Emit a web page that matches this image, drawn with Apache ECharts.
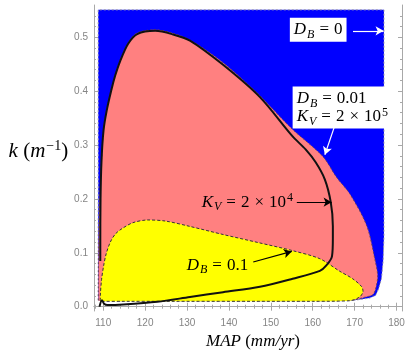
<!DOCTYPE html>
<html><head><meta charset="utf-8">
<script src="https://cdn.jsdelivr.net/npm/echarts@6/dist/echarts.min.js"></script>
<style>html,body{margin:0;padding:0;background:#fff}#c{width:407px;height:353px}</style>
</head><body><div id="c"></div>
<script>
// ---- data (MAP in mm/yr, k in 1/m) ----
const xTicks = [110, 120, 130, 140, 150, 160, 170, 180];
const yTicks = [0.0, 0.1, 0.2, 0.3, 0.4, 0.5];
const xTickLabels = ['110', '120', '130', '140', '150', '160', '170', '180'];
const yTickLabels = ['0.0', '0.1', '0.2', '0.3', '0.4', '0.5'];

// D_B = 0 region (blue)
const regionDB0 = [
  [108.8, 0.012], [108.8, 0.551], [177.0, 0.551], [177.0, 0.13], [176.8, 0.085],
  [176.4, 0.052], [175.7, 0.033], [175.0, 0.021], [173.6, 0.016], [170.0, 0.012]
];
// D_B = 0.01, K_V = 2e5 region (pink)
const regionDB001 = [
  [108.85, 0.012], [108.85, 0.03], [108.9, 0.10], [109.1, 0.19], [109.4, 0.24], [109.6, 0.274],
  [110.07, 0.329], [110.83, 0.366], [111.9, 0.403], [112.86, 0.431], [114.05, 0.458],
  [115.95, 0.490], [118.1, 0.508], [122.4, 0.514], [126.4, 0.508], [130.7, 0.495],
  [138.6, 0.453], [146.7, 0.397], [149.8, 0.372], [155.2, 0.329], [162.4, 0.279],
  [165.7, 0.240], [168.8, 0.210], [172.9, 0.150], [174.8, 0.089], [175.5, 0.057],
  [175.0, 0.033], [174.3, 0.022], [172.4, 0.0176], [170.0, 0.013], [165.0, 0.011],
  [115.0, 0.011], [109.2, 0.011]
];
// D_B = 0.1 region (yellow)
const regionDB01 = [
  [109.3, 0.011], [109.3, 0.02], [109.6, 0.05], [110.1, 0.076], [110.7, 0.098],
  [111.7, 0.120], [112.9, 0.135], [114.5, 0.145], [117.1, 0.156], [120.5, 0.161],
  [124.8, 0.159], [130.7, 0.149], [138.6, 0.134], [147.0, 0.119], [155.2, 0.104],
  [161.7, 0.089], [166.4, 0.066], [169.5, 0.052], [171.7, 0.037], [172.0, 0.028],
  [171.2, 0.018], [168.8, 0.011], [160.0, 0.010], [115.0, 0.010], [109.6, 0.010]
];
// K_V = 2e4 contour (black)
const contourKV = [
  [109.1, 0.0], [109.7, 0.012], [110.2, 0.0055], [111.0, 0.003], [114.8, 0.004],
  [122.9, 0.009], [130.7, 0.018], [138.6, 0.027], [147.4, 0.037], [155.2, 0.052],
  [161.7, 0.0665], [163.3, 0.077], [164.6, 0.094], [164.8, 0.126], [164.8, 0.15],
  [164.3, 0.194], [162.9, 0.236], [160.7, 0.268], [158.3, 0.292], [155.2, 0.316],
  [147.4, 0.389], [138.6, 0.449], [130.7, 0.494], [126.4, 0.506], [122.4, 0.512],
  [118.1, 0.506], [115.95, 0.488], [114.05, 0.456], [112.86, 0.429], [111.9, 0.401],
  [110.83, 0.364], [110.07, 0.327], [109.6, 0.272], [109.36, 0.20], [109.3, 0.107],
  [109.3, 0.085]
];

// minor tick positions
const xMinor = [], yMinor = [];
for (let v = 108; v <= 181; v += 2) if (v % 10 !== 0) xMinor.push(v);
for (let j = 1; j <= 27; j++) if (j % 5 !== 0) yMinor.push(+(j * 0.02).toFixed(2));

const SERIF = '"Liberation Serif", "DejaVu Serif", serif';
const FS = 17;
const richAnn = {
  i:   { fontFamily: SERIF, fontStyle: 'italic', fontSize: FS, lineHeight: 18, color: '#000' },
  r:   { fontFamily: SERIF, fontSize: FS, lineHeight: 18, color: '#000' },
  eq:  { fontFamily: SERIF, fontSize: FS, lineHeight: 18, padding: [0, 5, 0, 5], color: '#000' },
  sub: { fontFamily: SERIF, fontStyle: 'italic', fontSize: 12, lineHeight: 1, verticalAlign: 'top', padding: [8, 0, 0, 1], color: '#000' },
  sup: { fontFamily: SERIF, fontSize: 12, lineHeight: 1, verticalAlign: 'top', padding: [-1, 0, 0, 1], color: '#000' }
};

function region(name, pts, fill, stroke, dash, smooth, z) {
  return {
    type: 'custom', name: name, z: z, silent: true, clip: true,
    data: [pts[0]],
    encode: { x: 0, y: 1 },
    renderItem: function (params, api) {
      const px = pts.map(p => api.coord(p));
      const xs = px.map(p => p[0]), ys = px.map(p => p[1]);
      const box = [[Math.min.apply(null, xs), Math.min.apply(null, ys)], [Math.max.apply(null, xs), Math.max.apply(null, ys)]];
      return {
        type: 'polygon',
        shape: { points: px, smooth: smooth, smoothConstraint: box },
        style: { fill: fill, stroke: stroke, lineWidth: 1, lineDash: dash }
      };
    }
  };
}

const annotations = [
  { pos: [161.3, 0.514], text: '{i|D}{sub|B}{eq|=}{r|0}', align: 'center', va: 'middle', box: true },
  { pos: [155.2, 0.4085], text: '{i|D}{sub|B}{eq|=}{r|0.01}\n{i|K}{sub|V}{eq|=}{r|2}{eq|×}{r|10}{sup|5}', align: 'left', va: 'top', box: true },
  { pos: [155.3, 0.194], text: '{i|K}{sub|V}{eq|=}{r|2}{eq|×}{r|10}{sup|4}', align: 'right', va: 'middle', box: false },
  { pos: [144.6, 0.077], text: '{i|D}{sub|B}{eq|=}{r|0.1}', align: 'right', va: 'middle', box: false }
];

const arrows = [
  { from: [169.6, 0.512], to: [176.9, 0.512], color: '#fff' },
  { from: [165.6, 0.344], to: [162.9, 0.282], color: '#fff' },
  { from: [156.2, 0.194], to: [164.5, 0.194], color: '#000' },
  { from: [145.8, 0.083], to: [155.0, 0.1026], color: '#000' }
];

const chart = echarts.init(document.getElementById('c'), null, { renderer: 'canvas' });

const FRAME = '#a8a8a8';
function axis(extra) {
  return Object.assign({
    type: 'value',
    axisLine: { show: true, lineStyle: { color: FRAME, width: 1 } },
    axisTick: { show: true, inside: true, length: 4, lineStyle: { color: FRAME } },
    axisLabel: { show: false },
    splitLine: { show: false }
  }, extra);
}
const XR = { min: 107.8, max: 181.3 };
const YR = { min: -0.008, max: 0.56 };
const labelStyle = { color: '#858585', fontSize: 10, fontFamily: '"Liberation Sans", Arial, sans-serif' };

const option = {
  animation: false,
  backgroundColor: '#fff',
  grid: { left: 94, right: 5, top: 5, bottom: 42, containLabel: false, outerBoundsMode: 'none' },
  xAxis: [
    axis(Object.assign({}, XR, {
      position: 'bottom',
      axisTick: { show: true, inside: true, length: 4, customValues: xTicks, lineStyle: { color: FRAME } },
      axisLabel: Object.assign({ show: true, margin: 7, customValues: xTicks,
        formatter: v => { const i = xTicks.findIndex(t => Math.abs(t - v) < 1e-6); return i < 0 ? '' : xTickLabels[i]; } }, labelStyle),
      name: '{i|MAP}{r| (}{i|mm/yr}{r|)}', nameLocation: 'middle', nameGap: 22,
      nameTextStyle: {
        padding: [0, 0, 0, 10],
        rich: {
          i: { fontFamily: SERIF, fontStyle: 'italic', fontSize: 17, color: '#000' },
          r: { fontFamily: SERIF, fontSize: 17, color: '#000' }
        }
      }
    })),
    axis(Object.assign({}, XR, { position: 'top',
      axisTick: { show: true, inside: true, length: 4, customValues: xTicks, lineStyle: { color: FRAME } } })),
    axis(Object.assign({}, XR, { position: 'bottom', axisLine: { show: false },
      axisTick: { show: true, inside: true, length: 2, customValues: xMinor, lineStyle: { color: FRAME } } })),
    axis(Object.assign({}, XR, { position: 'top', axisLine: { show: false },
      axisTick: { show: true, inside: true, length: 2, customValues: xMinor, lineStyle: { color: FRAME } } }))
  ],
  yAxis: [
    axis(Object.assign({}, YR, {
      position: 'left',
      axisTick: { show: true, inside: true, length: 4, customValues: yTicks, lineStyle: { color: FRAME } },
      axisLabel: Object.assign({ show: true, margin: 6, customValues: yTicks,
        formatter: v => { const i = yTicks.findIndex(t => Math.abs(t - v) < 1e-6); return i < 0 ? '' : yTickLabels[i]; } }, labelStyle),
      name: '{i|k}{r| (}{i|m}{sup|−1}{r|)}', nameLocation: 'middle', nameRotate: 0, nameGap: 23,
      nameTextStyle: {
        padding: [0, 0, 14, 0],
        rich: {
          i: { fontFamily: SERIF, fontStyle: 'italic', fontSize: 21, lineHeight: 22, color: '#000' },
          r: { fontFamily: SERIF, fontSize: 21, lineHeight: 22, color: '#000' },
          sup: { fontFamily: SERIF, fontSize: 14, lineHeight: 1, verticalAlign: 'top', padding: [-1, 0, 0, 1], color: '#000' }
        }
      }
    })),
    axis(Object.assign({}, YR, { position: 'right',
      axisTick: { show: true, inside: true, length: 4, customValues: yTicks, lineStyle: { color: FRAME } } })),
    axis(Object.assign({}, YR, { position: 'left', axisLine: { show: false },
      axisTick: { show: true, inside: true, length: 2, customValues: yMinor, lineStyle: { color: FRAME } } })),
    axis(Object.assign({}, YR, { position: 'right', axisLine: { show: false },
      axisTick: { show: true, inside: true, length: 2, customValues: yMinor, lineStyle: { color: FRAME } } }))
  ],
  series: [
    region('D_B = 0', regionDB0, '#0000ff', '#9a9aa8', [2, 2], 0, 1),
    region('D_B = 0.01', regionDB001, '#ff8080', '#6a4060', [2, 2], 0.3, 2),
    region('D_B = 0.1', regionDB01, '#ffff00', '#333', [3, 2], 0.3, 3),
    {
      type: 'line', name: 'K_V = 2e4', data: contourKV, z: 4, silent: true,
      showSymbol: false, smooth: 0.3, clip: true,
      lineStyle: { color: '#111', width: 2 }
    },
    {
      type: 'custom', name: 'annotations', z: 10, silent: true, clip: false,
      data: [[150, 0.3]],
      renderItem: function (params, api) {
        return {
          type: 'group',
          children: annotations.map(a => {
            const p = api.coord(a.pos);
            return {
              type: 'text', x: p[0], y: p[1],
              style: Object.assign({
                text: a.text, rich: richAnn, align: a.align, verticalAlign: a.va, fill: '#000'
              }, a.box ? { backgroundColor: '#fff', padding: [3, 4, 3, 4] } : {})
            };
          })
        };
      },
      markLine: {
        silent: true, symbol: ['none', 'arrow'], symbolSize: [7, 8], precision: 4,
        label: { show: false },
        lineStyle: { type: 'solid', width: 1.2 },
        data: arrows.map(a => [
          { coord: a.from, lineStyle: { color: a.color }, itemStyle: { color: a.color } },
          { coord: a.to, lineStyle: { color: a.color }, itemStyle: { color: a.color } }
        ])
      }
    }
  ]
};
chart.setOption(option);
</script>
</body></html>
